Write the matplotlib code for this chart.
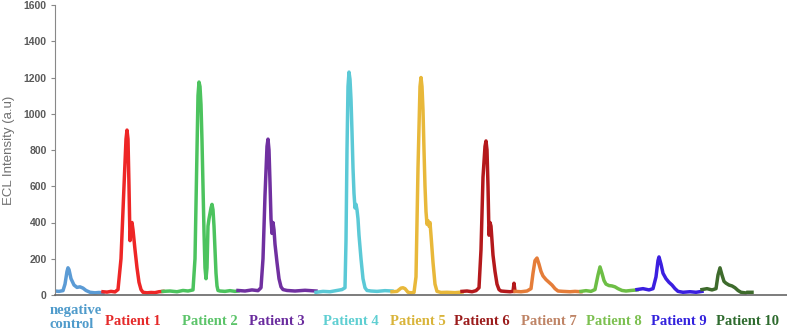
import numpy as np
import matplotlib
matplotlib.use("Agg")
import matplotlib.pyplot as plt

# ECL traces, x = time (a.u.), y = intensity (a.u.)
neg_t = [0, 4, 8, 10, 12, 13, 14, 16, 19, 22, 25, 28, 31, 35, 40, 44, 48]
neg_y = [22, 20, 24, 60, 130, 150, 140, 90, 55, 42, 45, 38, 25, 15, 12, 14, 12]

p1_t = [48, 52, 56, 60, 63, 66, 69, 71, 72, 73, 74, 75, 76, 77, 78, 80, 82, 84, 86, 88, 92, 96, 100, 104, 108]
p1_y = [18, 16, 20, 17, 30, 200, 600, 860, 910, 860, 600, 300, 380, 400, 360, 250, 150, 70, 30, 15, 12, 14, 13, 18, 20]

p2_t = [108, 115, 122, 128, 133, 138, 140, 142, 143, 144, 145, 146, 147, 148, 149, 150, 151, 152, 153, 154,
        156, 157, 158, 159, 160, 161, 162, 163, 165, 170, 175, 180, 183]
p2_y = [20, 22, 18, 25, 22, 28, 200, 800, 1100, 1175, 1150, 1050, 850, 600, 350, 150, 90, 150, 380, 420,
        480, 500, 470, 380, 250, 120, 50, 25, 22, 20, 24, 20, 22]

p3_t = [183, 190, 197, 203, 206, 208, 210, 212, 213, 214, 215, 216, 217, 218, 219, 220, 222, 224, 226, 228, 232, 240, 250, 261]
p3_y = [25, 22, 28, 24, 40, 200, 550, 820, 860, 800, 620, 420, 340, 400, 360, 280, 180, 90, 45, 30, 25, 22, 26, 22]

p4_t = [261, 268, 275, 282, 287, 290, 291, 292, 293, 294, 295, 296, 297, 298, 299, 300, 301, 302, 303, 304,
        306, 308, 310, 312, 316, 322, 330, 337]
p4_y = [15, 20, 18, 25, 30, 40, 300, 800, 1150, 1230, 1190, 1080, 900, 700, 560, 480, 500, 470, 420, 330,
        200, 90, 40, 25, 22, 20, 24, 22]

p5_t = [337, 342, 346, 348, 350, 353, 356, 359, 361, 363, 365, 366, 367, 368, 369, 370, 371, 372, 373, 374,
        375, 376, 378, 380, 382, 386, 392, 400, 407]
p5_y = [18, 20, 38, 40, 35, 15, 12, 14, 100, 700, 1150, 1200, 1150, 1020, 800, 600, 460, 390, 410, 380,
        400, 330, 180, 60, 20, 14, 15, 13, 16]

p6_t = [407, 412, 417, 421, 424, 426, 428, 430, 431, 432, 433, 434, 435, 436, 437, 438, 440, 442, 444, 446, 450, 455, 458, 459, 460]
p6_y = [20, 22, 18, 24, 40, 250, 650, 820, 850, 800, 600, 330, 400, 380, 300, 220, 130, 60, 30, 22, 20, 18, 20, 65, 20]

p7_t = [460, 466, 472, 476, 478, 480, 482, 484, 486, 488, 491, 494, 497, 500, 503, 508, 515, 520, 526]
p7_y = [20, 18, 22, 35, 120, 190, 204, 170, 130, 105, 85, 70, 55, 35, 22, 20, 18, 20, 18]

p8_t = [526, 531, 536, 540, 543, 545, 547, 549, 551, 554, 557, 560, 563, 567, 571, 576, 582]
p8_y = [20, 24, 20, 30, 110, 155, 120, 80, 60, 52, 50, 45, 35, 25, 22, 25, 28]

p9_t = [582, 588, 594, 598, 601, 603, 604, 606, 608, 611, 614, 617, 620, 623, 628, 635, 641, 647]
p9_y = [30, 35, 28, 35, 100, 190, 210, 170, 120, 90, 70, 55, 35, 20, 15, 18, 15, 20]

p10_t = [647, 652, 657, 661, 663, 665, 667, 669, 671, 674, 677, 680, 683, 686, 690, 691, 693, 697]
p10_y = [30, 35, 28, 35, 110, 150, 110, 75, 65, 55, 50, 40, 25, 15, 12, np.nan, 15, 15]

series = [
    (neg_t, neg_y, "#5B9BD5"),
    (p1_t, p1_y, "#EE2626"),
    (p2_t, p2_y, "#4CC35E"),
    (p3_t, p3_y, "#7030A0"),
    (p4_t, p4_y, "#5BC9D6"),
    (p5_t, p5_y, "#E8B83A"),
    (p6_t, p6_y, "#B4191C"),
    (p7_t, p7_y, "#E57D39"),
    (p8_t, p8_y, "#6DBE45"),
    (p9_t, p9_y, "#3B1FE0"),
    (p10_t, p10_y, "#3E6B2C"),
]

# group labels under the axis
labels = ["Patient 1", "Patient 2", "Patient 3", "Patient 4", "Patient 5",
          "Patient 6", "Patient 7", "Patient 8", "Patient 9", "Patient 10"]
label_x = [78, 155, 222, 296, 363, 427, 494, 559, 624, 692]
label_colors = ["#E52A2A", "#5CC46A", "#6A2C9E", "#5FCFD2", "#D9B43A",
                "#9B1C1C", "#BF8466", "#7CC050", "#3322DD", "#2E6B2E"]

fig = plt.figure(figsize=(7.87, 3.31), dpi=100)
ax = fig.add_axes([55 / 787, 36 / 331, 732 / 787, 290 / 331])

for t, y, c in series:
    ax.plot(t, y, color=c, lw=2.5, solid_joinstyle="round")

ax.set_xlim(0, 732)
ax.set_ylim(0, 1600)
ax.set_yticks(range(0, 1601, 200))
ax.set_xticks([])

for lbl in ax.get_yticklabels():
    lbl.set_fontweight("bold")
    lbl.set_fontfamily("Liberation Sans")
ax.tick_params(axis="y", direction="out", length=3, width=0.8, color="#888888",
               labelsize=7.5, labelcolor="#595959", pad=3)

ax.spines["top"].set_visible(False)
ax.spines["right"].set_visible(False)
ax.spines["left"].set_color("#888888")
ax.spines["bottom"].set_color("#666666")
ax.spines["bottom"].set_linewidth(1.2)

ax.set_ylabel("ECL Intensity (a.u)", fontsize=9.5, color="#707070",
              fontfamily="Liberation Sans", labelpad=6)

tr = ax.get_xaxis_transform()
ax.text(-5, -0.078, "negative\ncontrol", transform=tr, ha="left", va="center",
        fontsize=10.5, fontweight="bold", fontfamily="Liberation Serif",
        color="#4F9BCB", linespacing=1.05, clip_on=False)
for x, s, c in zip(label_x, labels, label_colors):
    ax.text(x, -0.093, s, transform=tr, ha="center", va="center",
            fontsize=10.5, fontweight="bold", fontfamily="Liberation Serif",
            color=c, clip_on=False)

fig.savefig("out.png", dpi=100)
